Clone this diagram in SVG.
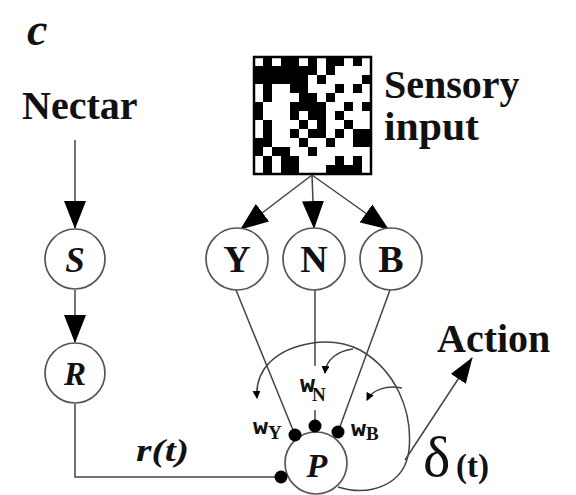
<svg xmlns="http://www.w3.org/2000/svg" width="576" height="495" viewBox="0 0 576 495">
  <style>
    .node circle { fill: #fff; stroke: #555; stroke-width: 1.7; }
    .lbl { font-family: "Liberation Serif", "Times New Roman", serif; font-weight: bold; fill: #111; }
    .it { font-style: italic; }
    .wire { fill: none; stroke: #444; stroke-width: 1.5; }
    .dot { fill: #000; }
    .cell { fill: #000; }
    .w { font-family: "Liberation Mono", monospace; font-weight: bold; fill: #111; }
  </style>
  <defs>
    <marker id="ah" viewBox="0 0 28 22" refX="27" refY="11" markerWidth="28" markerHeight="22" orient="auto" markerUnits="userSpaceOnUse">
      <path d="M0,0 L28,11 L0,22 Z" fill="#000"/>
    </marker>
    <marker id="ahAct" viewBox="0 0 26 18" refX="25" refY="9" markerWidth="26" markerHeight="18" orient="auto" markerUnits="userSpaceOnUse">
      <path d="M0,0 L26,9 L0,18 Z" fill="#000"/>
    </marker>
    <marker id="ahSmall" viewBox="0 0 8 8" refX="7" refY="4" markerWidth="8" markerHeight="8" orient="auto" markerUnits="userSpaceOnUse">
      <path d="M0,0 L8,4 L0,8 Z" fill="#000"/>
    </marker>
  </defs>

  <rect width="576" height="495" fill="#fff"/>

  <!-- panel letter -->
  <text class="lbl it" x="27" y="45" font-size="46">c</text>

  <!-- labels -->
  <text id="nectar" class="lbl" x="22" y="119" font-size="40">Nectar</text>
  <text class="lbl" x="384" y="98" font-size="40">Sensory</text>
  <text class="lbl" x="384" y="140" font-size="40" textLength="95" lengthAdjust="spacingAndGlyphs">input</text>
  <text id="action" class="lbl" x="437" y="352" font-size="40">Action</text>
  <text class="lbl it" x="136" y="461" font-size="32" textLength="53" lengthAdjust="spacingAndGlyphs">r(t)</text>
  <text x="423" y="476" font-size="58" font-family="Liberation Serif, serif" fill="#111">δ</text>
  <text class="lbl" x="456" y="477" font-size="33">(t)</text>

  <!-- sensory input: random binary pattern -->
  <g id="sensory-input">
    <rect class="cell" x="263" y="57" width="9" height="9"/><rect class="cell" x="281" y="57" width="18" height="9"/><rect class="cell" x="308" y="57" width="9" height="9"/><rect class="cell" x="326" y="57" width="18" height="9"/><rect class="cell" x="353" y="57" width="9" height="9"/>
    <rect class="cell" x="254" y="66" width="63" height="9"/><rect class="cell" x="326" y="66" width="9" height="9"/>
    <rect class="cell" x="254" y="75" width="54" height="9"/><rect class="cell" x="317" y="75" width="9" height="9"/><rect class="cell" x="362" y="75" width="9" height="9"/>
    <rect class="cell" x="263" y="84" width="9" height="9"/><rect class="cell" x="290" y="84" width="18" height="9"/><rect class="cell" x="335" y="84" width="9" height="9"/><rect class="cell" x="353" y="84" width="9" height="9"/>
    <rect class="cell" x="263" y="93" width="9" height="9"/><rect class="cell" x="299" y="93" width="18" height="9"/><rect class="cell" x="326" y="93" width="9" height="9"/>
    <rect class="cell" x="254" y="102" width="9" height="9"/><rect class="cell" x="290" y="102" width="36" height="9"/><rect class="cell" x="344" y="102" width="9" height="9"/><rect class="cell" x="362" y="102" width="9" height="9"/>
    <rect class="cell" x="254" y="111" width="9" height="9"/><rect class="cell" x="290" y="111" width="9" height="9"/><rect class="cell" x="308" y="111" width="18" height="9"/><rect class="cell" x="335" y="111" width="9" height="9"/>
    <rect class="cell" x="263" y="120" width="9" height="9"/><rect class="cell" x="299" y="120" width="9" height="9"/><rect class="cell" x="317" y="120" width="9" height="9"/><rect class="cell" x="344" y="120" width="9" height="9"/>
    <rect class="cell" x="263" y="129" width="9" height="9"/><rect class="cell" x="290" y="129" width="9" height="9"/><rect class="cell" x="308" y="129" width="18" height="9"/><rect class="cell" x="335" y="129" width="9" height="9"/><rect class="cell" x="353" y="129" width="18" height="9"/>
    <rect class="cell" x="254" y="138" width="18" height="9"/><rect class="cell" x="299" y="138" width="9" height="9"/><rect class="cell" x="326" y="138" width="9" height="9"/><rect class="cell" x="353" y="138" width="18" height="9"/>
    <rect class="cell" x="254" y="147" width="9" height="9"/><rect class="cell" x="272" y="147" width="18" height="9"/><rect class="cell" x="308" y="147" width="9" height="9"/>
    <rect class="cell" x="263" y="156" width="9" height="9"/><rect class="cell" x="281" y="156" width="18" height="9"/><rect class="cell" x="335" y="156" width="9" height="9"/><rect class="cell" x="353" y="156" width="9" height="9"/>
    <rect class="cell" x="263" y="165" width="9" height="9"/><rect class="cell" x="281" y="165" width="18" height="9"/><rect class="cell" x="326" y="165" width="36" height="9"/>
    <rect x="254" y="57" width="117" height="117" fill="none" stroke="#000" stroke-width="2.5"/>
  </g>

  <!-- connectors -->
  <g id="connectors">
    <line class="wire" x1="75" y1="140" x2="75" y2="228" marker-end="url(#ah)"/>
    <line class="wire" x1="75" y1="290" x2="75" y2="342" marker-end="url(#ah)"/>
    <polyline class="wire" points="75,404 75,477 281,477"/>
    <line class="wire" x1="312" y1="175" x2="241" y2="229" marker-end="url(#ah)"/>
    <line class="wire" x1="312" y1="175" x2="314" y2="228" marker-end="url(#ah)"/>
    <line class="wire" x1="312" y1="175" x2="388" y2="229" marker-end="url(#ah)"/>
    <line class="wire" x1="236" y1="290" x2="295" y2="435"/>
    <line class="wire" x1="315" y1="290" x2="315" y2="366"/>
    <line class="wire" x1="315" y1="410" x2="315" y2="426"/>
    <line class="wire" x1="390" y1="290" x2="338" y2="432"/>
    <!-- feedback loop from P back to the weights -->
    <path class="wire" d="M338,487 C370,497 405,485 409,450 C413,410 395,370 360,350 C330,335 290,343 270,362 C259,373 256,385 257,398" marker-end="url(#ahSmall)"/>
    <path class="wire" d="M353,349 C338,351 326,359 325,373" marker-end="url(#ahSmall)"/>
    <path class="wire" d="M402,388 C386,385 372,390 367,400" marker-end="url(#ahSmall)"/>
    <line class="wire" x1="405" y1="460" x2="472" y2="358" marker-end="url(#ahAct)"/>
  </g>

  <!-- nodes -->
  <g id="S" class="node"><circle cx="75" cy="259" r="30"/><text class="lbl it" x="75" y="272" font-size="35" text-anchor="middle">S</text></g>
  <g id="R" class="node"><circle cx="75" cy="373" r="30"/><text class="lbl it" x="75" y="385" font-size="33" text-anchor="middle">R</text></g>
  <g id="Y" class="node"><circle cx="237" cy="259" r="31"/><text class="lbl" x="237" y="272" font-size="38" text-anchor="middle">Y</text></g>
  <g id="N" class="node"><circle cx="314" cy="259" r="31"/><text class="lbl" x="314" y="272" font-size="38" text-anchor="middle">N</text></g>
  <g id="B" class="node"><circle cx="391" cy="259" r="31"/><text class="lbl" x="391" y="272" font-size="38" text-anchor="middle">B</text></g>
  <g id="P" class="node"><circle cx="316" cy="463" r="31"/><text class="lbl it" x="317" y="477" font-size="34" text-anchor="middle">P</text></g>

  <!-- synaptic weights -->
  <g id="wY"><circle class="dot" cx="295" cy="435" r="6.5"/><text class="w" x="253" y="434" font-size="18" textLength="15" lengthAdjust="spacingAndGlyphs">W</text><text class="lbl" x="268" y="439" font-size="19">Y</text></g>
  <g id="wN"><circle class="dot" cx="315" cy="426" r="6.5"/><text class="w" x="300" y="392" font-size="20" textLength="15" lengthAdjust="spacingAndGlyphs">W</text><text class="lbl" x="312" y="401" font-size="19">N</text></g>
  <g id="wB"><circle class="dot" cx="338" cy="432" r="6.5"/><text class="w" x="351" y="436" font-size="18" textLength="15" lengthAdjust="spacingAndGlyphs">W</text><text class="lbl" x="366" y="440" font-size="19">B</text></g>
  <circle class="dot" cx="281" cy="477" r="6.5"/>
</svg>
